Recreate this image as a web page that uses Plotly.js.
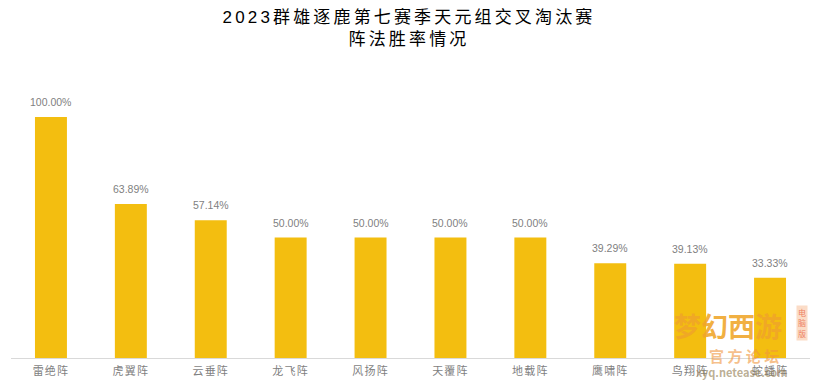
<!DOCTYPE html>
<html>
<head>
<meta charset="utf-8">
<script src="https://cdn.plot.ly/plotly-3.0.1.min.js"></script>
<style>
html,body{margin:0;padding:0;background:#fff}
.gtitle{letter-spacing:3.15px}
.xtick text{letter-spacing:1.2px}
</style>
</head>
<body>
<div id="chart" style="width:823px;height:385px"></div>
<script>
var categories = ['雷绝阵','虎翼阵','云垂阵','龙飞阵','风扬阵','天覆阵','地载阵','鹰啸阵','鸟翔阵','蛇蟠阵'];
var winRates = [100.00,63.89,57.14,50.00,50.00,50.00,50.00,39.29,39.13,33.33];
var labels = winRates.map(function(v){return v.toFixed(2)+'%';});
var fontFamily = 'Liberation Sans, Arial, "Noto Sans CJK SC", sans-serif';
var trace = {
  type:'bar', x:categories, y:winRates, width:0.4,
  marker:{color:'#F3BE10', line:{width:0}},
  hoverinfo:'x+y'
};
var valueNotes = categories.map(function(c,i){
  return {x:c,y:winRates[i],xref:'x',yref:'y',text:labels[i],showarrow:false,
    xanchor:'center',yanchor:'bottom',yshift:7,
    font:{family:fontFamily,size:10.5,color:'#7f7f7f'}};
});
var wm = [
  {text:'<b>梦幻西游</b>',x:0.897,y:0.135,size:27,color:'rgba(240,165,40,0.88)',bg:'rgba(0,0,0,0)'},
  {text:'<b>官 方 论 坛</b>',x:0.917,y:0.012,size:15,color:'rgba(240,150,60,0.6)',bg:'rgba(0,0,0,0)'},
  {text:'<b>xyq.netease.com</b>',x:0.915,y:-0.058,size:11,color:'rgba(150,130,90,0.65)',bg:'rgba(0,0,0,0)'},
  {text:'电<br>脑<br>版',x:0.99,y:0.145,size:8,color:'rgba(235,120,90,0.95)',bg:'rgba(250,205,175,0.7)'}
];
var wmNotes = wm.map(function(w){return {text:w.text,xref:'paper',yref:'paper',x:w.x,y:w.y,
    xanchor:'center',yanchor:'middle',showarrow:false,bgcolor:w.bg,
    font:{family:'"Noto Sans CJK SC", sans-serif',size:w.size,color:w.color}};});
var layout = {
  width:823,height:385,
  margin:{l:11,r:13,t:117,b:27},
  paper_bgcolor:'#fff',plot_bgcolor:'#fff',showlegend:false,
  title:{text:'2023群雄逐鹿第七赛季天元组交叉淘汰赛<br>阵法胜率情况',
    font:{family:fontFamily,size:17,color:'#000'},x:0.497,xanchor:'center',y:0.941,yanchor:'top'},
  xaxis:{type:'category',showgrid:false,showline:true,linecolor:'#d9d9d9',linewidth:1,
    ticks:'outside',ticklen:3,tickcolor:'rgba(0,0,0,0)',
    tickfont:{family:fontFamily,size:11,color:'#7f7f7f'},tickangle:0,fixedrange:true},
  yaxis:{range:[0,100],visible:false,fixedrange:true},
  annotations:valueNotes.concat(wmNotes)
};
Plotly.newPlot('chart',[trace],layout,{displayModeBar:false});
</script>
</body>
</html>
